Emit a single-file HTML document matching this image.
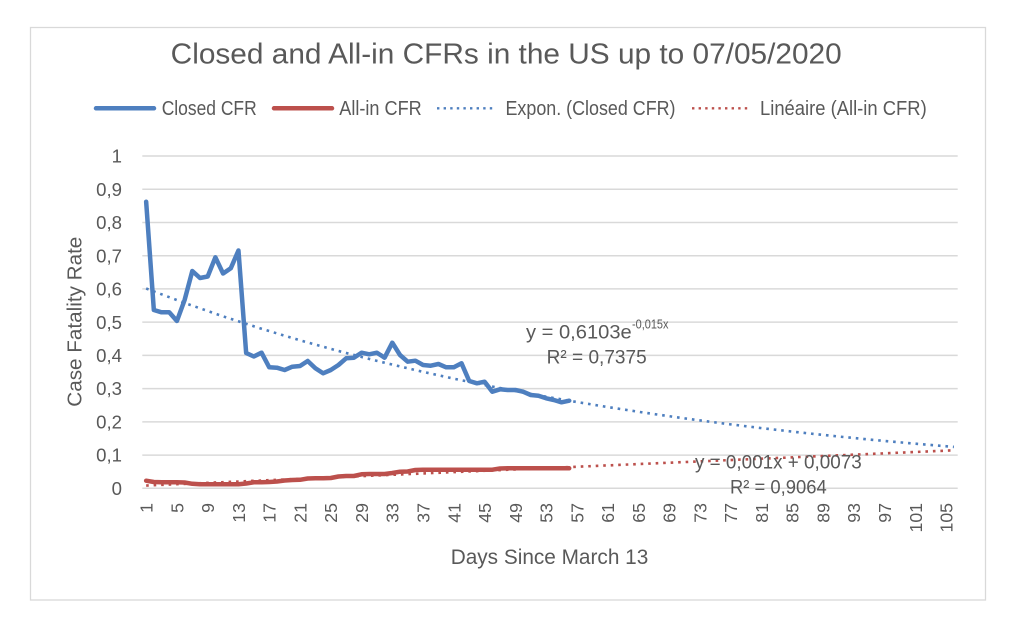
<!DOCTYPE html>
<html>
<head>
<meta charset="utf-8">
<style>
html,body{margin:0;padding:0;background:#fff;}
svg{display:block;}
text{font-family:"Liberation Sans",sans-serif;fill:#595959;}
</style>
</head>
<body>
<svg width="1024" height="619" viewBox="0 0 1024 619" xmlns="http://www.w3.org/2000/svg">
<rect x="0" y="0" width="1024" height="619" fill="#ffffff"/>
<rect x="30.5" y="27.5" width="955" height="572.5" fill="#ffffff" stroke="#d9d9d9" stroke-width="1.3"/>

<!-- Title -->
<text x="170.7" y="63.3" font-size="29" textLength="671" lengthAdjust="spacingAndGlyphs">Closed and All-in CFRs in the US up to 07/05/2020</text>

<!-- Legend -->
<line x1="96" y1="108.3" x2="154" y2="108.3" stroke="#4e7fbf" stroke-width="4.5" stroke-linecap="round"/>
<text x="161.7" y="115" font-size="20" textLength="95" lengthAdjust="spacingAndGlyphs">Closed CFR</text>
<line x1="274" y1="108.3" x2="332" y2="108.3" stroke="#bc504c" stroke-width="4.5" stroke-linecap="round"/>
<text x="339.3" y="115" font-size="20" textLength="82.4" lengthAdjust="spacingAndGlyphs">All-in CFR</text>
<line x1="437" y1="108.3" x2="494" y2="108.3" stroke="#4e7fbf" stroke-width="2.4" stroke-dasharray="2.4 4.2"/>
<text x="505.5" y="115" font-size="20" textLength="170" lengthAdjust="spacingAndGlyphs">Expon. (Closed CFR)</text>
<line x1="692" y1="108.3" x2="749" y2="108.3" stroke="#bc504c" stroke-width="2.4" stroke-dasharray="2.4 4.2"/>
<text x="760" y="115" font-size="20" textLength="166.7" lengthAdjust="spacingAndGlyphs">Linéaire (All-in CFR)</text>

<!-- Gridlines -->
<g stroke="#d9d9d9" stroke-width="1.5">
<line x1="142.3" y1="156" x2="957.7" y2="156"/>
<line x1="142.3" y1="189.23" x2="957.7" y2="189.23"/>
<line x1="142.3" y1="222.46" x2="957.7" y2="222.46"/>
<line x1="142.3" y1="255.69" x2="957.7" y2="255.69"/>
<line x1="142.3" y1="288.92" x2="957.7" y2="288.92"/>
<line x1="142.3" y1="322.15" x2="957.7" y2="322.15"/>
<line x1="142.3" y1="355.38" x2="957.7" y2="355.38"/>
<line x1="142.3" y1="388.61" x2="957.7" y2="388.61"/>
<line x1="142.3" y1="421.84" x2="957.7" y2="421.84"/>
<line x1="142.3" y1="455.07" x2="957.7" y2="455.07"/>
<line x1="142.3" y1="488.3" x2="957.7" y2="488.3"/>
</g>

<!-- Y tick labels -->
<g font-size="18.6" text-anchor="end">
<text x="122" y="162.6">1</text>
<text x="122" y="195.8">0,9</text>
<text x="122" y="229.1">0,8</text>
<text x="122" y="262.3">0,7</text>
<text x="122" y="295.5">0,6</text>
<text x="122" y="328.8">0,5</text>
<text x="122" y="362">0,4</text>
<text x="122" y="395.2">0,3</text>
<text x="122" y="428.5">0,2</text>
<text x="122" y="461.7">0,1</text>
<text x="122" y="494.9">0</text>
</g>

<!-- Y axis title -->
<text transform="translate(81.5,321.7) rotate(-90)" x="0" y="0" text-anchor="middle" font-size="20.5" textLength="170" lengthAdjust="spacingAndGlyphs">Case Fatality Rate</text>

<!-- X tick labels (rotated) -->
<g font-size="17.7" text-anchor="end">
<text transform="translate(152.6,503) rotate(-90)">1</text>
<text transform="translate(183.4,503) rotate(-90)">5</text>
<text transform="translate(214.1,503) rotate(-90)">9</text>
<text transform="translate(244.9,503) rotate(-90)">13</text>
<text transform="translate(275.7,503) rotate(-90)">17</text>
<text transform="translate(306.4,503) rotate(-90)">21</text>
<text transform="translate(337.2,503) rotate(-90)">25</text>
<text transform="translate(368.0,503) rotate(-90)">29</text>
<text transform="translate(398.7,503) rotate(-90)">33</text>
<text transform="translate(429.5,503) rotate(-90)">37</text>
<text transform="translate(460.3,503) rotate(-90)">41</text>
<text transform="translate(491.0,503) rotate(-90)">45</text>
<text transform="translate(521.8,503) rotate(-90)">49</text>
<text transform="translate(552.6,503) rotate(-90)">53</text>
<text transform="translate(583.3,503) rotate(-90)">57</text>
<text transform="translate(614.1,503) rotate(-90)">61</text>
<text transform="translate(644.9,503) rotate(-90)">65</text>
<text transform="translate(675.6,503) rotate(-90)">69</text>
<text transform="translate(706.4,503) rotate(-90)">73</text>
<text transform="translate(737.2,503) rotate(-90)">77</text>
<text transform="translate(767.9,503) rotate(-90)">81</text>
<text transform="translate(798.7,503) rotate(-90)">85</text>
<text transform="translate(829.5,503) rotate(-90)">89</text>
<text transform="translate(860.2,503) rotate(-90)">93</text>
<text transform="translate(891.0,503) rotate(-90)">97</text>
<text transform="translate(921.8,503) rotate(-90)">101</text>
<text transform="translate(952.5,503) rotate(-90)">105</text>
</g>

<!-- X axis title -->
<text x="450.7" y="564" font-size="21.5" textLength="197.6" lengthAdjust="spacingAndGlyphs">Days Since March 13</text>

<!-- Closed CFR series -->
<polyline fill="none" stroke="#4e7fbf" stroke-width="4.5" stroke-linejoin="round" stroke-linecap="round" points="
146.15,201.7 153.84,310 161.54,312.3 169.23,312.3 176.92,321 184.61,300 192.31,271 200.00,278 207.69,276.5 215.38,257.3
223.08,273.5 230.77,268.3 238.46,250.5 246.15,353 253.84,356.5 261.54,352.7 269.23,367.3 276.92,367.7 284.61,370 292.30,366.7
300.00,366 307.69,361 315.38,368.3 323.07,373.3 330.77,370 338.46,365 346.15,358.3 353.84,357.7 361.53,352.7 369.23,354.3
376.92,352.7 384.61,357.7 392.30,342.7 400.00,355 407.69,361.7 415.38,360.7 423.07,365 430.76,365.7 438.46,364 446.15,367.3
453.84,367.3 461.53,363.3 469.22,381 476.92,383.3 484.61,381.7 492.30,391.7 499.99,389.3 507.68,390 515.38,390 523.07,391.7
530.76,395 538.45,395.7 546.15,398.3 553.84,400 561.53,402.3 569.22,400.7"/>

<!-- All-in CFR series -->
<polyline fill="none" stroke="#bc504c" stroke-width="4.5" stroke-linejoin="round" stroke-linecap="round" points="
146.15,480.7 153.84,482.0 161.54,482.3 169.23,482.3 176.92,482.3 184.61,482.5 192.31,483.8 200.00,484.3 207.69,484.3 215.38,484.3
223.08,484.3 230.77,484.3 238.46,484.3 246.15,483.5 253.84,482.3 261.54,482.3 269.23,482.0 276.92,481.5 284.61,480.5 292.30,480
300.00,479.8 307.69,478.5 315.38,478.3 323.07,478.3 330.77,478 338.46,476.5 346.15,476 353.84,476 361.53,474.3 369.23,474
376.92,474 384.61,474 392.30,473 400.00,471.7 407.69,471.5 415.38,470 423.07,469.7 430.76,469.7 438.46,469.7 446.15,469.7
453.84,469.7 461.53,469.7 469.22,469.7 476.92,469.7 484.61,469.7 492.30,469.7 499.99,468.5 507.68,468.3 515.38,468.3 523.07,468.3
530.76,468.3 538.45,468.3 546.15,468.3 553.84,468.3 561.53,468.3 569.22,468.3"/>

<!-- Exponential trendline -->
<polyline fill="none" stroke="#4e7fbf" stroke-width="2.6" stroke-dasharray="2.6 4.9" points="
146.15,288.52 184.61,302.95 223.08,316.35 261.54,328.77 300.0,340.3 338.46,350.99 376.92,360.91 415.38,370.12 453.84,378.66
492.30,386.58 530.76,393.93 569.22,400.75 607.7,407.07 646.2,412.94 684.6,418.39 723.1,423.44 761.5,428.13 800.0,432.47
838.5,436.51 876.9,440.25 915.4,443.72 953.9,446.94"/>

<!-- Linear trendline -->
<line x1="146.15" y1="485.54" x2="953.9" y2="450.3" stroke="#bc504c" stroke-width="2.6" stroke-dasharray="2.6 4.9"/>

<!-- Annotations -->
<text x="526" y="338.3" font-size="19" textLength="105.7" lengthAdjust="spacingAndGlyphs">y = 0,6103e</text>
<text x="632" y="328.3" font-size="12.5" textLength="36.5" lengthAdjust="spacingAndGlyphs">-0,015x</text>
<text x="546.7" y="363.3" font-size="19" textLength="100" lengthAdjust="spacingAndGlyphs">R² = 0,7375</text>
<text x="695" y="468.3" font-size="19" textLength="166.7" lengthAdjust="spacingAndGlyphs">y = 0,001x + 0,0073</text>
<text x="730" y="493.3" font-size="19" textLength="96.7" lengthAdjust="spacingAndGlyphs">R² = 0,9064</text>
</svg>
</body>
</html>
